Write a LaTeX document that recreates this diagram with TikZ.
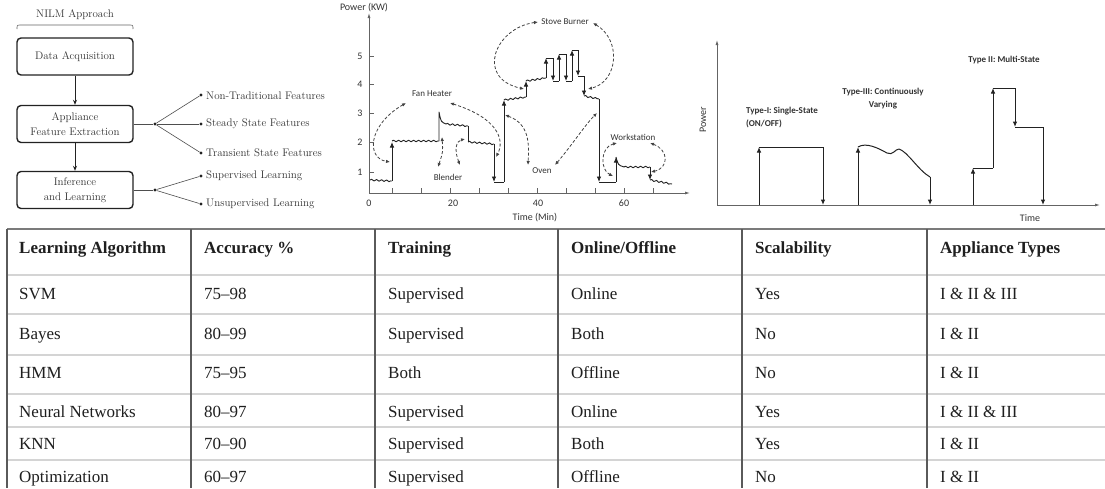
\documentclass[tikz,border=0pt]{standalone}
\usepackage{fontspec}
\newfontfamily\tabfont{Liberation Serif}
\newfontfamily\plotfont{Carlito}
\usetikzlibrary{arrows.meta,decorations.pathmorphing}
\definecolor{ink}{HTML}{222222}
\definecolor{txt}{HTML}{333333}
\definecolor{rowline}{HTML}{D4D4D4}
\definecolor{colline}{HTML}{5A5A5A}
\newcommand{\trow}[8]{%
  \node[cell] (#1a) at (19,#2) {#3};
  \node[cell] (#1b) at (204,#2) {#4};
  \node[cell] (#1c) at (388,#2) {#5};
  \node[cell] (#1d) at (571,#2) {#6};
  \node[cell] (#1e) at (755,#2) {#7};
  \node[cell] (#1f) at (940,#2) {#8};}
\begin{document}
\begin{tikzpicture}[x=1pt,y=-1pt,
  flowbox/.style={draw=ink, line width=1.4pt, rounded corners=4pt, minimum width=116pt, minimum height=37pt, align=center, inner sep=0pt, font=\fontsize{11}{14.5}\selectfont, text=txt},
  flowarr/.style={draw=ink, line width=0.8pt, -{Stealth[length=5pt,width=4pt]}},
  branch/.style={draw=ink!80, line width=0.6pt},
  dotnode/.style={circle, fill=ink, inner sep=0pt, minimum size=3.2pt},
  leaflabel/.style={anchor=west, inner sep=0pt, font=\fontsize{11}{13}\selectfont, text=txt},
  cell/.style={anchor=base west, inner sep=0pt, font=\tabfont\fontsize{17}{20}\selectfont, text=black!88},
  plotlbl/.style={inner sep=0pt, font=\plotfont\fontsize{9}{11}\selectfont, text=txt},
  axlbl/.style={inner sep=0pt, font=\plotfont\fontsize{10}{12}\selectfont, text=txt},
  typelbl/.style={inner sep=0pt, font=\plotfont\bfseries\fontsize{9}{13}\selectfont, text=txt},
  pw/.style={-{Latex[length=5.5pt,width=4.5pt]}},
  wave/.style={decorate, decoration={snake, amplitude=0.8pt, segment length=5pt}},
  dasharr/.style={draw=ink!85, line width=0.8pt, dash pattern=on 3pt off 2pt, {Latex[length=4pt,width=3.5pt]}-{Latex[length=4pt,width=3.5pt]}},
  axisline/.style={draw=ink!70, line width=0.8pt, -{Latex[length=5pt,width=3pt]}}
]
\useasboundingbox (0,0) rectangle (1105,488);
\fill[white] (0,0) rectangle (1105,488);

%% ---------------- NILM flowchart ----------------
\node[inner sep=0pt, font=\fontsize{11}{13}\selectfont, text=txt] (title) at (75,15) {NILM Approach};
\draw[ink!70, line width=0.6pt] (17,29) .. controls (17,25) .. (21,25) -- (129,25) .. controls (133,25) .. (133,29);
\node[flowbox] (da) at (75,56.5) {Data Acquisition};
\node[flowbox] (afe) at (75,124) {Appliance\\Feature Extraction};
\node[flowbox] (il) at (75,190) {Inference\\and Learning};
\draw[flowarr] (da) -- (afe);
\draw[flowarr] (afe) -- (il);

\node[dotnode] (j1) at (155,124) {};
\node[dotnode] (f1) at (201,95) {};
\node[dotnode] (f2) at (201,124) {};
\node[dotnode] (f3) at (201,153) {};
\draw[branch] (afe.east) -- (j1);
\draw[branch] (j1) -- (f1);
\draw[branch] (j1) -- (f2);
\draw[branch] (j1) -- (f3);
\node[leaflabel] (f1t) at (206,96) {Non-Traditional Features};
\node[leaflabel] (f2t) at (206,124) {Steady State Features};
\node[leaflabel] (f3t) at (206,153) {Transient State Features};

\node[dotnode] (j2) at (155,190) {};
\node[dotnode] (l1) at (201,176) {};
\node[dotnode] (l2) at (201,204) {};
\draw[branch] (il.east) -- (j2);
\draw[branch] (j2) -- (l1);
\draw[branch] (j2) -- (l2);
\node[leaflabel] (l1t) at (206,176) {Supervised Learning};
\node[leaflabel] (l2t) at (206,204) {Unsupervised Learning};

%% ---------------- Power trace plot ----------------
\begin{scope}
\clip (335,0) rectangle (700,221);
\draw[axisline] (369,193) -- (369,13);
\draw[axisline] (369,193) -- (690,193);
\foreach \t in {392,421,450,479,508,537,566,595,624,653} \draw[ink!70, line width=0.7pt] (\t,193) -- (\t,188);
\foreach \v/\yy in {1/172,2/142,3/113,4/84,5/56} {
  \draw[ink!70, line width=0.7pt] (369,\yy) -- (374,\yy);
  \node[axlbl] at (360,\yy) {\v};
}
\node[axlbl] at (369,203) {0};
\node[axlbl] at (453,203) {20};
\node[axlbl] at (538,203) {40};
\node[axlbl] at (624,203) {60};
\node[axlbl] at (364,8) {Power (KW)};
\node[axlbl] at (535,218) {Time (Min)};

\begin{scope}[draw=ink, line width=0.9pt, line join=round]
\draw[wave] (370,180) -- (392,181);
\draw[pw] (392,181) -- (392,142);
\draw[wave] (392,141) -- (439,141);
\draw (439,141) -- (439,112) .. controls (441,122) .. (446,124);
\draw[wave] (446,124) -- (468,126);
\draw (468,126) -- (468,142);
\draw[wave] (468,142) -- (494,144);
\draw[pw] (494,144) -- (494,182);
\draw (494,182) -- (504,182);
\draw[pw] (504,182) -- (504,100);
\draw[wave] (504,100) -- (526,97);
\draw[pw] (526,97) -- (526,81);
\draw[wave] (526,81) -- (546,78);
\draw[pw] (546,78) -- (546,58);
\draw (546,58) -- (553,58);
\draw[pw] (553,58) -- (553,81);
\draw (553,81) -- (559,81);
\draw[pw] (559,81) -- (559,54);
\draw (559,54) -- (566,54);
\draw[pw] (566,54) -- (566,81);
\draw (566,81) -- (572,81);
\draw[pw] (572,81) -- (572,50);
\draw (572,50) -- (578,50);
\draw[pw] (578,50) -- (578,76);
\draw (578,76) -- (584,76);
\draw[pw] (584,76) -- (584,96);
\draw[wave] (584,96) -- (599,99);
\draw[pw] (599,99) -- (599,182);
\draw (599,182) -- (616,182);
\draw[pw] (616,182) -- (616,157);
\draw (616,157) .. controls (618,165) .. (624,167);
\draw[wave] (624,167) -- (650,167);
\draw[pw] (650,167) -- (650,180);
\draw[wave] (650,180) -- (672,184);
\end{scope}

\node[plotlbl] (fan) at (432,94) {Fan Heater};
\node[plotlbl] (blend) at (448,177) {Blender};
\node[plotlbl] (stove) at (565,22) {Stove Burner};
\node[plotlbl] (oven) at (542,171) {Oven};
\node[plotlbl] (work) at (633,137) {Workstation};
\draw[dasharr] (406,103) .. controls (368,125) and (366,158) .. (390,162);
\draw[dasharr] (450,103) .. controls (498,118) and (505,140) .. (496,157);
\draw[dasharr] (438,167) .. controls (443,152) .. (442,137);
\draw[dasharr] (460,165) .. controls (454,150) and (456,141) .. (465,139);
\draw[dasharr] (538,22) .. controls (495,28) and (475,78) .. (524,89);
\draw[dasharr] (593,23) .. controls (622,40) and (618,82) .. (588,89);
\draw[dasharr] (505,115) .. controls (530,124) and (529,145) .. (528,165);
\draw[dasharr] (555,165) .. controls (572,145) and (585,125) .. (597,113);
\draw[dasharr] (617,143) .. controls (600,147) and (600,170) .. (613,176);
\draw[dasharr] (650,143) .. controls (669,150) and (669,168) .. (651,172);
\end{scope}

%% ---------------- Appliance types plot ----------------
\begin{scope}
\clip (690,0) rectangle (1105,222);
\draw[axisline] (717,205) -- (717,40);
\draw[axisline] (717,205) -- (1100,205);
\node[axlbl, rotate=90] at (703,120) {Power};
\node[axlbl] at (1030,218) {Time};
\begin{scope}[draw=ink, line width=1pt, line join=round]
\draw[pw] (759,205) -- (759,147);
\draw (759,147) -- (823,147);
\draw[pw] (823,147) -- (823,205);
\draw[pw] (858,205) -- (858,147);
\draw (858,147) .. controls (866,142) and (878,148) .. (887,153) .. controls (893,156) and (895,149) .. (899,149) .. controls (908,152) and (918,170) .. (930,177);
\draw[pw] (930,177) -- (930,205);
\draw[pw] (973,205) -- (973,168);
\draw (973,168) -- (993,168);
\draw[pw] (993,168) -- (993,88);
\draw (993,88) -- (1015,88);
\draw[pw] (1015,88) -- (1015,127);
\draw (1015,127) -- (1043,127);
\draw[pw] (1043,127) -- (1043,205);
\end{scope}
\node[typelbl, anchor=west, align=left] (t1) at (746,117.5) {Type-I: Single-State\\(ON/OFF)};
\node[typelbl, align=center] (t3) at (883,99) {Type-III: Continuously\\Varying};
\node[typelbl] (t2) at (1004,60) {Type II: Multi-State};
\end{scope}

%% ---------------- Table ----------------
\foreach \yy in {275,314,355,394,427,460} \draw[rowline, line width=2pt] (7,\yy) -- (1105,\yy);
\draw[colline!80, line width=1.2pt] (7,229) -- (1105,229);
\foreach \xx in {7,191,375,558,742,927} \draw[colline, line width=1.2pt] (\xx,229) -- (\xx,488);

\trow{h}{253}{\bfseries Learning Algorithm}{\bfseries Accuracy \%}{\bfseries Training}{\bfseries Online/Offline}{\bfseries Scalability}{\bfseries Appliance Types}
\trow{r1}{299}{SVM}{75–98}{Supervised}{Online}{Yes}{I \& II \& III}
\trow{r2}{339}{Bayes}{80–99}{Supervised}{Both}{No}{I \& II}
\trow{r3}{378}{HMM}{75–95}{Both}{Offline}{No}{I \& II}
\trow{r4}{417}{Neural Networks}{80–97}{Supervised}{Online}{Yes}{I \& II \& III}
\trow{r5}{449}{KNN}{70–90}{Supervised}{Both}{Yes}{I \& II}
\trow{r6}{482}{Optimization}{60–97}{Supervised}{Offline}{No}{I \& II}
\end{tikzpicture}
\end{document}
